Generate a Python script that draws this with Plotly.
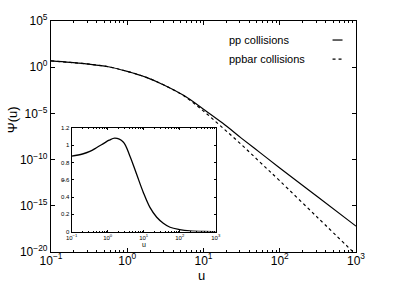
import numpy as np
import plotly.graph_objects as go

# ---- data ----
log_u = [-1.0, -0.75, -0.5, -0.25, 0.0, 0.25, 0.5, 0.75, 1.0, 1.25, 1.5, 1.75, 2.0, 2.5, 3.0]
log_psi_pp = [0.68, 0.52, 0.33, 0.05, -0.45, -1.1, -2.0, -3.1, -4.55, -6.05, -7.7, -9.3, -10.9, -14.05, -17.2]
log_psi_ppbar = [0.68, 0.52, 0.33, 0.05, -0.45, -1.1, -2.0, -3.15, -4.75, -6.55, -8.4, -10.35, -12.3, -16.3, -20.3]

inset_u = [0.1, 0.2, 0.32, 0.5, 0.76, 1.1, 1.58, 2.7, 4.1, 6.3, 9.7, 14.9, 23, 35, 54, 100, 190, 450, 1000]
inset_r = [0.875, 0.90, 0.93, 0.975, 1.02, 1.06, 1.084, 1.04, 0.88, 0.67, 0.457, 0.28, 0.166, 0.097, 0.05, 0.023, 0.008, 0.001, 0.0]

legend_names = ["pp collisions", "ppbar collisions"]

x_tick_vals = [0.1, 1, 10, 100, 1000]
x_tick_text = ["10<sup>−1</sup>", "10<sup>0</sup>", "10<sup>1</sup>", "10<sup>2</sup>", "10<sup>3</sup>"]
y_tick_vals = [1e5, 1e0, 1e-5, 1e-10, 1e-15, 1e-20]
y_tick_text = ["10<sup>5</sup>", "10<sup>0</sup>", "10<sup>−5</sup>", "10<sup>−10</sup>",
               "10<sup>−15</sup>", "10<sup>−20</sup>"]
inset_y_vals = [0, 0.2, 0.4, 0.6, 0.8, 1.0, 1.2]
inset_y_text = ["0", "0.2", "0.4", "0.6", "0.8", "1", "1.2"]

u = 10 ** np.array(log_u)
psi_pp = 10 ** np.array(log_psi_pp)
psi_ppbar = 10 ** np.array(log_psi_ppbar)

W, H = 394, 283
L, R, T, B = 51, 37.5, 21, 31.3
FONT = "Liberation Sans, Arial, Helvetica, sans-serif"

fig = go.Figure()
fig.add_trace(go.Scatter(x=u, y=psi_pp, mode="lines", line=dict(color="black", width=1.2, shape="spline"),
                         name=legend_names[0], showlegend=False))
fig.add_trace(go.Scatter(x=u, y=psi_ppbar, mode="lines", line=dict(color="black", width=1.2, dash="3px,3px", shape="spline"),
                         name=legend_names[1], showlegend=False))
fig.add_trace(go.Scatter(x=inset_u, y=inset_r, mode="lines", line=dict(color="black", width=1.3, shape="spline"),
                         xaxis="x2", yaxis="y2", showlegend=False))

minor_vals = [m * 10.0 ** k for k in range(-1, 3) for m in range(2, 10)]

pw = W - L - R
ph = H - T - B
ix0, ix1 = (71.7 - L) / pw, (216 - L) / pw
iy0, iy1 = (H - B - 231.3) / ph, (H - B - 128) / ph

def px_x(xp):
    return (xp - L) / pw

def px_y(yp):
    return (H - B - yp) / ph

fig.update_layout(
    width=W, height=H,
    margin=dict(l=L, r=R, t=T, b=B, autoexpand=False),
    paper_bgcolor="white", plot_bgcolor="white",
    font=dict(family=FONT, size=12, color="black"),
    xaxis=dict(type="log", range=[-1, 3], tickmode="array", tickvals=x_tick_vals, ticktext=x_tick_text,
               showline=True, linecolor="black", linewidth=1.2, mirror="allticks",
               ticks="inside", ticklen=4, tickcolor="black", showgrid=False, zeroline=False,
               minor=dict(tickvals=minor_vals, ticks="inside", ticklen=2, tickcolor="black", showgrid=False),
               tickfont=dict(size=12, color="black"), ticklabelstandoff=-3, automargin=False),
    yaxis=dict(type="log", range=[-20, 5], tickmode="array", tickvals=y_tick_vals, ticktext=y_tick_text,
               showline=True, linecolor="black", linewidth=1.2, mirror="allticks",
               ticks="inside", ticklen=4, tickcolor="black", showgrid=False, zeroline=False,
               tickfont=dict(size=12, color="black"), automargin=False),
    xaxis2=dict(type="log", range=[-1, 3], tickmode="array", tickvals=x_tick_vals, ticktext=x_tick_text,
                domain=[ix0, ix1], anchor="y2", showline=True, linecolor="black", linewidth=1, mirror="allticks",
                ticks="inside", ticklen=2, tickcolor="black", showgrid=False, zeroline=False,
                minor=dict(tickvals=minor_vals, ticks="inside", ticklen=1, tickcolor="black", showgrid=False),
                tickfont=dict(size=6, color="black"), automargin=False),
    yaxis2=dict(range=[0, 1.2], tickmode="array", tickvals=inset_y_vals, ticktext=inset_y_text,
                domain=[iy0, iy1], anchor="x2",
                showline=True, linecolor="black", linewidth=1, mirror="allticks",
                ticks="inside", ticklen=2, tickcolor="black", showgrid=False, zeroline=False,
                tickfont=dict(size=6, color="black"), automargin=False),
)

# axis titles as annotations at the reference positions
fig.add_annotation(text="Ψ(u)", xref="paper", yref="paper", x=px_x(12), y=px_y(120),
                   showarrow=False, textangle=-90, font=dict(size=13, color="black"),
                   xanchor="center", yanchor="middle")
fig.add_annotation(text="u", xref="paper", yref="paper", x=px_x(202), y=px_y(275),
                   showarrow=False, font=dict(size=13, color="black"), xanchor="center", yanchor="middle")
fig.add_annotation(text="u", xref="paper", yref="paper", x=px_x(144), y=px_y(244),
                   showarrow=False, font=dict(size=7, color="black"), xanchor="center", yanchor="middle")
fig.add_annotation(text="r", xref="paper", yref="paper", x=px_x(63), y=px_y(180),
                   showarrow=False, textangle=-90, font=dict(size=6, color="black"),
                   xanchor="center", yanchor="middle")

# legend drawn as text + sample line on the right
legend_y_px = [40, 59]
for name, ypx, dash in zip(legend_names, legend_y_px, ["solid", "3px,3px"]):
    yp = px_y(ypx)
    fig.add_annotation(text=name, xref="paper", yref="paper", x=px_x(227), y=yp,
                       showarrow=False, xanchor="left", yanchor="middle", font=dict(size=11, color="black"))
    fig.add_shape(type="line", xref="paper", yref="paper", x0=px_x(333), x1=px_x(343),
                  y0=yp, y1=yp, line=dict(color="black", width=1.2, dash=dash))

fig.write_html("out.html", config={"displayModeBar": False},
               post_script="document.body.style.margin='0';document.body.style.overflow='hidden';")
